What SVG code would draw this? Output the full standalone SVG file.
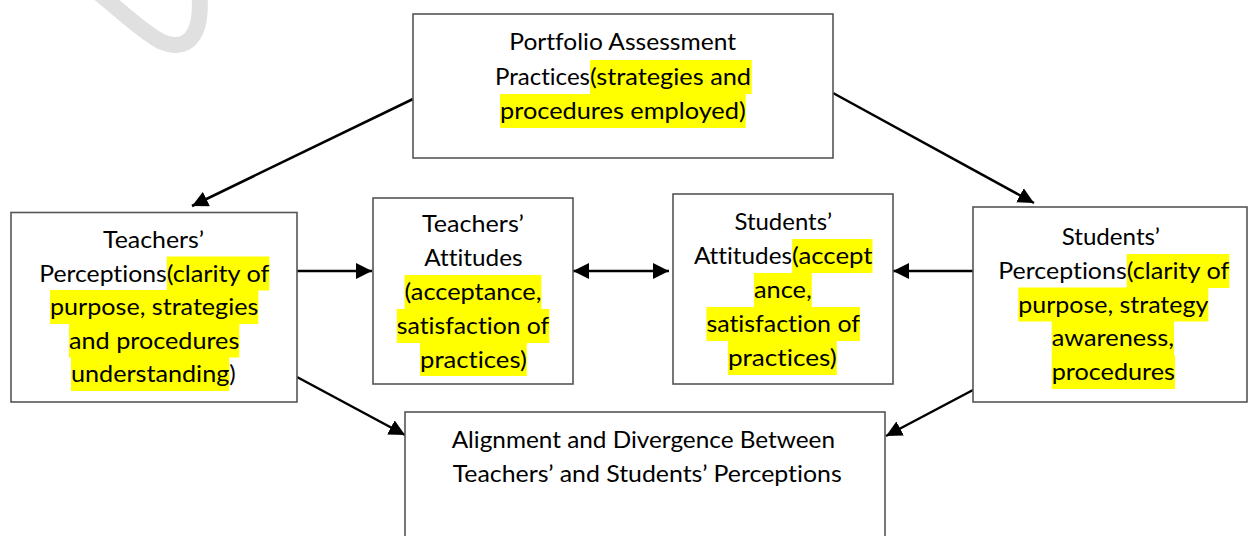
<svg xmlns="http://www.w3.org/2000/svg" width="1248" height="536" viewBox="0 0 1248 536">
<style>
.box{fill:#ffffff;stroke:#555555;stroke-width:1.6}
.t{font-family:Lato,"Open Sans","Liberation Sans",sans-serif;font-size:24px;fill:#000000;font-variant-ligatures:none;font-feature-settings:"liga" 0,"clig" 0}
.hl{fill:#ffff00}
.c{stroke:#000000;stroke-width:2.5;fill:none}
</style>
<defs>
<marker id="ah" markerUnits="userSpaceOnUse" markerWidth="18" markerHeight="16" refX="16" refY="8" orient="auto">
<path d="M0,0 L16,8 L0,16 Z" fill="#000000"/>
</marker>
<marker id="ahs" markerUnits="userSpaceOnUse" markerWidth="18" markerHeight="16" refX="0" refY="8" orient="auto">
<path d="M16,0 L0,8 L16,16 Z" fill="#000000"/>
</marker>
</defs>
<rect width="1248" height="536" fill="#ffffff"/>
<path d="M95,-10 C120,10 140,30 160,41 C186,53 204,38 199,-10" stroke="#e0e0e0" stroke-width="16" fill="none"/>

<g id="connectors">
<line class="c" x1="413" y1="99" x2="192" y2="206" marker-end="url(#ah)"/>
<line class="c" x1="833" y1="93" x2="1034" y2="203" marker-end="url(#ah)"/>
<line class="c" x1="297" y1="271" x2="372" y2="271" marker-end="url(#ah)"/>
<line class="c" x1="573" y1="271" x2="669" y2="271" marker-start="url(#ahs)" marker-end="url(#ah)"/>
<line class="c" x1="973" y1="271" x2="893" y2="271" marker-end="url(#ah)"/>
<line class="c" x1="297" y1="377" x2="405" y2="435" marker-end="url(#ah)"/>
<line class="c" x1="973" y1="390" x2="886" y2="436" marker-end="url(#ah)"/>
</g>

<g id="node-portfolio">
<rect class="box" x="413" y="14" width="420" height="144"/>
<rect class="hl" x="590" y="60" width="161.7" height="34"/>
<rect class="hl" x="500" y="94" width="245.7" height="34"/>
<text class="t" x="509.3" y="50" textLength="226.7" lengthAdjust="spacingAndGlyphs">Portfolio Assessment</text>
<text class="t" x="495" y="85" textLength="95" lengthAdjust="spacingAndGlyphs">Practices</text>
<text class="t" x="590" y="85" textLength="161" lengthAdjust="spacingAndGlyphs">(strategies and</text>
<text class="t" x="500" y="119" textLength="245.7" lengthAdjust="spacingAndGlyphs">procedures employed)</text>
</g>

<g id="node-teachers-perceptions">
<rect class="box" x="11" y="212.5" width="286" height="189.5"/>
<rect class="hl" x="166.7" y="256.5" width="102.6" height="34"/>
<rect class="hl" x="50" y="290" width="208.3" height="34"/>
<rect class="hl" x="69" y="323.5" width="170.3" height="34"/>
<rect class="hl" x="71" y="357" width="158.3" height="34"/>
<text class="t" x="103" y="248" textLength="101" lengthAdjust="spacingAndGlyphs">Teachers’</text>
<text class="t" x="39.3" y="281.5" textLength="127.4" lengthAdjust="spacingAndGlyphs">Perceptions</text>
<text class="t" x="166.7" y="281.5" textLength="102.6" lengthAdjust="spacingAndGlyphs">(clarity of</text>
<text class="t" x="50" y="315" textLength="208.3" lengthAdjust="spacingAndGlyphs">purpose, strategies</text>
<text class="t" x="69" y="348.5" textLength="170.3" lengthAdjust="spacingAndGlyphs">and procedures</text>
<text class="t" x="71" y="382" textLength="158.3" lengthAdjust="spacingAndGlyphs">understanding</text>
<text class="t" x="229.3" y="382">)</text>
</g>

<g id="node-teachers-attitudes">
<rect class="box" x="373" y="198" width="200" height="186"/>
<rect class="hl" x="404.6" y="275" width="136.8" height="34"/>
<rect class="hl" x="396.8" y="309" width="152.5" height="34"/>
<rect class="hl" x="420" y="343" width="106.8" height="33"/>
<text class="t" x="422" y="232" textLength="102" lengthAdjust="spacingAndGlyphs">Teachers’</text>
<text class="t" x="424.3" y="266" textLength="98.2" lengthAdjust="spacingAndGlyphs">Attitudes</text>
<text class="t" x="404.6" y="300" textLength="136.8" lengthAdjust="spacingAndGlyphs">(acceptance,</text>
<text class="t" x="396.8" y="334" textLength="152.5" lengthAdjust="spacingAndGlyphs">satisfaction of</text>
<text class="t" x="420" y="368" textLength="106.8" lengthAdjust="spacingAndGlyphs">practices)</text>
</g>

<g id="node-students-attitudes">
<rect class="box" x="673" y="194" width="220" height="190"/>
<rect class="hl" x="792.1" y="239" width="80.4" height="34"/>
<rect class="hl" x="753.9" y="273" width="57.9" height="34"/>
<rect class="hl" x="706.4" y="307" width="153.6" height="34"/>
<rect class="hl" x="727.9" y="341" width="108.9" height="34"/>
<text class="t" x="734.5" y="230" textLength="97.5" lengthAdjust="spacingAndGlyphs">Students’</text>
<text class="t" x="693.9" y="264" textLength="98.2" lengthAdjust="spacingAndGlyphs">Attitudes</text>
<text class="t" x="792.1" y="264" textLength="80.4" lengthAdjust="spacingAndGlyphs">(accept</text>
<text class="t" x="753.9" y="298" textLength="57.9" lengthAdjust="spacingAndGlyphs">ance,</text>
<text class="t" x="706.4" y="332" textLength="153.6" lengthAdjust="spacingAndGlyphs">satisfaction of</text>
<text class="t" x="727.9" y="366" textLength="108.9" lengthAdjust="spacingAndGlyphs">practices)</text>
</g>

<g id="node-students-perceptions">
<rect class="box" x="973" y="207" width="274" height="195"/>
<rect class="hl" x="1126.7" y="254" width="102.6" height="34"/>
<rect class="hl" x="1018.3" y="287.5" width="190" height="34"/>
<rect class="hl" x="1051.7" y="321" width="122.3" height="34"/>
<rect class="hl" x="1051.7" y="355" width="123.3" height="34"/>
<text class="t" x="1061.7" y="245" textLength="98.3" lengthAdjust="spacingAndGlyphs">Students’</text>
<text class="t" x="998.3" y="279" textLength="128.4" lengthAdjust="spacingAndGlyphs">Perceptions</text>
<text class="t" x="1126.7" y="279" textLength="102.6" lengthAdjust="spacingAndGlyphs">(clarity of</text>
<text class="t" x="1018.3" y="312.5" textLength="190" lengthAdjust="spacingAndGlyphs">purpose, strategy</text>
<text class="t" x="1051.7" y="346" textLength="122.3" lengthAdjust="spacingAndGlyphs">awareness,</text>
<text class="t" x="1051.7" y="380" textLength="123.3" lengthAdjust="spacingAndGlyphs">procedures</text>
</g>

<g id="node-alignment">
<rect class="box" x="405" y="412" width="480" height="130"/>
<text class="t" x="451.7" y="448" textLength="383.3" lengthAdjust="spacingAndGlyphs">Alignment and Divergence Between</text>
<text class="t" x="452.7" y="482" textLength="389" lengthAdjust="spacingAndGlyphs">Teachers’ and Students’ Perceptions</text>
</g>
</svg>
